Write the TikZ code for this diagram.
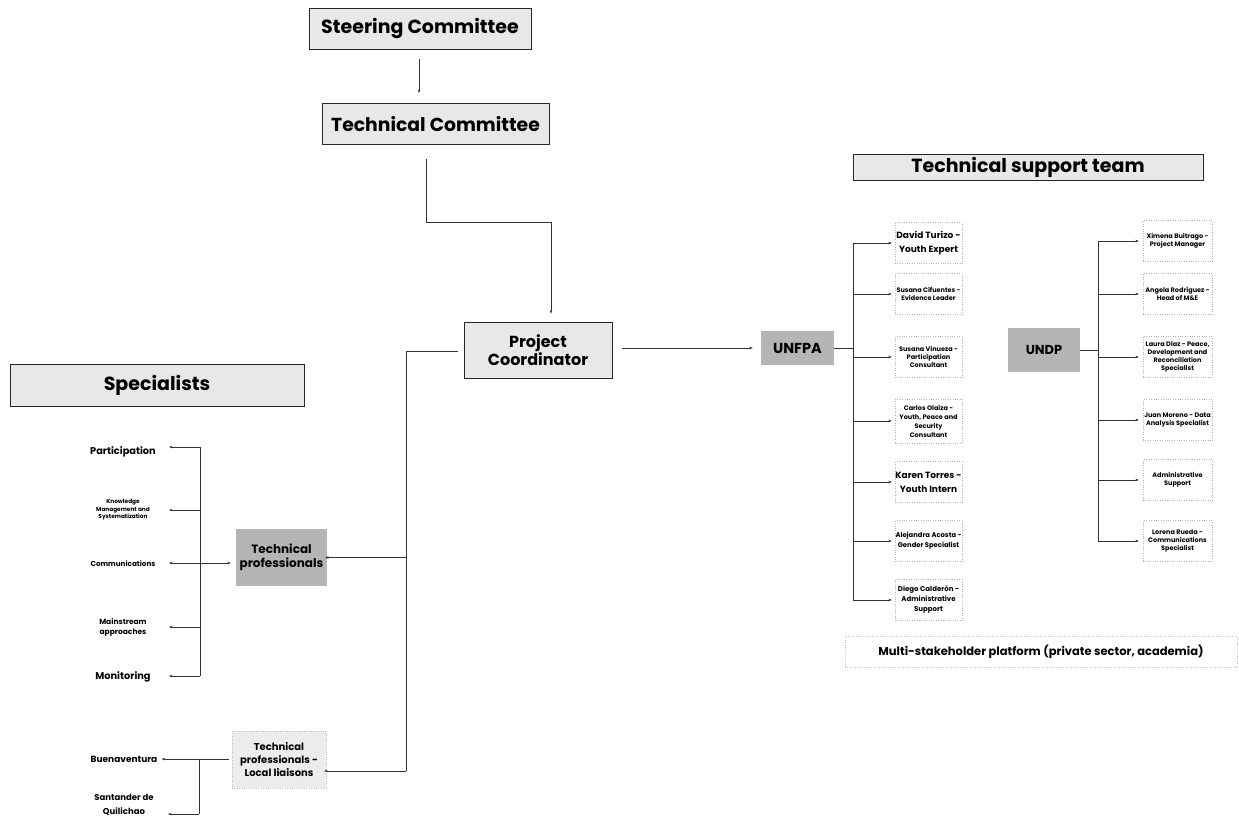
\documentclass[tikz,border=0pt]{standalone}
\usepackage{fontspec}
\setmainfont{Poppins}
\usetikzlibrary{arrows.meta}
\newcommand{\fs}[1]{\fontsize{#1}{#1}\selectfont}
\begin{document}
\begin{tikzpicture}[x=1pt,y=-1pt,
  hdr/.style={draw=black!85, line width=0.9pt, fill=gray!18, inner sep=0pt, align=center, font=\bfseries},
  dark/.style={fill=gray!58, inner sep=0pt, align=center, font=\bfseries},
  lite/.style={fill=gray!15, draw=gray!50, dotted, inner sep=0pt, align=center, font=\bfseries},
  mem/.style={draw=gray!60, dotted, inner sep=0pt, align=center, font=\bfseries\fontsize{6.5}{8}\selectfont, minimum width=67pt, minimum height=41pt},
  item/.style={align=center, inner sep=1pt, font=\bfseries\fontsize{7}{8.5}\selectfont},
  conn/.style={line width=0.6pt, draw=black!80},
  arr/.style={conn, -{Stealth[length=3.5pt,width=2.6pt]}}
]
\useasboundingbox (0,0) rectangle (1239,818);

% headers
\node[hdr, minimum width=222pt, minimum height=41pt, font=\bfseries\fs{19}] (steer) at (420,28.5) {Steering Committee};
\node[hdr, minimum width=227pt, minimum height=41pt, font=\bfseries\fs{18.8}] (tcom) at (435.5,124) {Technical Committee};
\node[hdr, minimum width=148pt, minimum height=56pt, font=\bfseries\fontsize{16}{18}\selectfont] (pc) at (538,350) {Project\\Coordinator};
\node[hdr, minimum width=294pt, minimum height=42pt, font=\bfseries\fs{19}] (spec) at (157,385.5) {Specialists};
\node[hdr, minimum width=350pt, minimum height=26pt, font=\bfseries\fs{19}] (tsup) at (1028,167) {Technical support team};

% steering -> technical committee
\coordinate (s1) at (419,59);
\coordinate (s2) at (419,93);
\draw[arr] (s1) -- (s2);

% technical committee -> project coordinator
\coordinate (k1) at (551,222);
\draw[arr] ([xshift=-9.5pt,yshift=-14pt]tcom.south) |- (k1) -- ([xshift=13pt,yshift=8pt]pc.north);

% left side
\node[dark, minimum width=91pt, minimum height=57pt, font=\bfseries\fontsize{12}{14}\selectfont] (tp) at (281.5,557.5) {Technical\\professionals};
\node[lite, minimum width=94pt, minimum height=57pt, font=\bfseries\fontsize{10}{13}\selectfont] (ll) at (279,759.5) {Technical\\professionals -\\Local liaisons};

\coordinate (v0) at (406,351);
\coordinate (v1) at (406,557.5);
\coordinate (v2) at (406,771);
\draw[conn] ([xshift=-6pt]pc.west |- v0) -- (v0) -- (v2);
\draw[arr] (v1) -- ([xshift=-2pt]tp.east);
\draw[arr] (v2) -- ([xshift=-2pt,yshift=-11.5pt]ll.east);

% specialists items
\node[item, font=\bfseries\fs{9.8}] (i1) at (123,452) {Participation};
\node[item, font=\bfseries\fontsize{5.8}{7.5}\selectfont] (i2) at (123,510) {Knowledge\\Management and\\Systematization};
\node[item, font=\bfseries\fs{7.2}] (i3) at (123,564) {Communications};
\node[item, font=\bfseries\fontsize{7.5}{10}\selectfont] (i4) at (123,627) {Mainstream\\approaches};
\node[item, font=\bfseries\fs{9.8}] (i5) at (123,677) {Monitoring};

\coordinate (b1) at (200,447);
\coordinate (b2) at (200,510);
\coordinate (b3) at (200,563);
\coordinate (b4) at (200,627);
\coordinate (b5) at (200,676);
\draw[conn] (b1) -- (b5);
\draw[arr] (b1) -- ([xshift=-31pt]b1);
\draw[arr] (b2) -- ([xshift=-31pt]b2);
\draw[arr] (b3) -- ([xshift=-31pt]b3);
\draw[arr] (b4) -- ([xshift=-31pt]b4);
\draw[arr] (b5) -- ([xshift=-31pt]b5);
\draw[arr] (b3) -- ([xshift=-5pt]tp.west |- b3);

% local liaisons items
\node[item, font=\bfseries\fs{9}] (l1) at (124,759) {Buenaventura};
\node[item, font=\bfseries\fontsize{8.5}{14}\selectfont] (l2) at (124,805) {Santander de\\Quilichao};
\coordinate (c1) at (199,759);
\coordinate (c2) at (199,814);
\draw[arr] ([xshift=-3pt]ll.west |- c1) -- ([xshift=3pt]l1.east);
\draw[conn] (c1) -- (c2);
\draw[arr] (c2) -- ([xshift=-31pt]c2);

% project coordinator -> UNFPA
\node[dark, minimum width=73pt, minimum height=34pt, font=\bfseries\fs{14.5}] (unfpa) at (797.5,348) {UNFPA};
\draw[arr] ([xshift=10pt]pc.east |- unfpa.west) -- ([xshift=-8pt]unfpa.west);

% UNFPA members
\node[mem, font=\bfseries\fontsize{9}{14}\selectfont] (f1) at (928.5,243) {David Turizo -\\Youth Expert};
\node[mem] (f2) at (928.5,294) {Susana Cifuentes -\\Evidence Leader};
\node[mem] (f3) at (928.5,357) {Susana Vinueza -\\Participation\\Consultant};
\node[mem, minimum height=44pt, font=\bfseries\fontsize{6.5}{9}\selectfont] (f4) at (928.5,421) {Carlos Olaiza -\\Youth, Peace and\\Security\\Consultant};
\node[mem, font=\bfseries\fontsize{9}{14}\selectfont] (f5) at (928.5,482) {Karen Torres -\\Youth Intern};
\node[mem, font=\bfseries\fontsize{6.8}{10}\selectfont] (f6) at (928.5,541) {Alejandra Acosta -\\Gender Specialist};
\node[mem, font=\bfseries\fontsize{7}{10}\selectfont] (f7) at (928.5,600) {Diego Calderón -\\Administrative\\Support};

\coordinate (fb) at (853,348);
\draw[conn] (unfpa.east) -- (fb);
\draw[conn] (fb |- f1) -- (fb |- f7);
\foreach \m in {f1,f2,f3,f4,f5,f6,f7}
  \draw[arr] (fb |- \m.west) -- ([xshift=-3pt]\m.west);

% UNDP
\node[dark, minimum width=72pt, minimum height=44pt, font=\bfseries\fs{13}] (undp) at (1044,350) {UNDP};
\node[mem, minimum width=69pt] (u1) at (1177.5,241) {Ximena Buitrago -\\Project Manager};
\node[mem, minimum width=69pt] (u2) at (1177.5,294) {Angela Rodríguez -\\Head of M\&E};
\node[mem, minimum width=69pt] (u3) at (1177.5,357) {Laura Díaz - Peace,\\Development and\\Reconciliation\\Specialist};
\node[mem, minimum width=69pt] (u4) at (1177.5,420) {Juan Moreno - Data\\Analysis Specialist};
\node[mem, minimum width=69pt] (u5) at (1177.5,480) {Administrative\\Support};
\node[mem, minimum width=69pt] (u6) at (1177.5,541) {Lorena Rueda -\\Communications\\Specialist};

\coordinate (ub) at (1098,350);
\draw[conn] (undp.east) -- (ub);
\draw[conn] (ub |- u1) -- (ub |- u6);
\foreach \m in {u1,u2,u3,u4,u5,u6}
  \draw[arr] (ub |- \m.west) -- ([xshift=-4pt]\m.west);

% multi-stakeholder platform
\node[draw=gray!45, dotted, minimum width=392pt, minimum height=31pt, inner sep=0pt, font=\bfseries\fs{11.5}] (msp) at (1041,652) {Multi-stakeholder platform (private sector, academia)};
\end{tikzpicture}
\end{document}
